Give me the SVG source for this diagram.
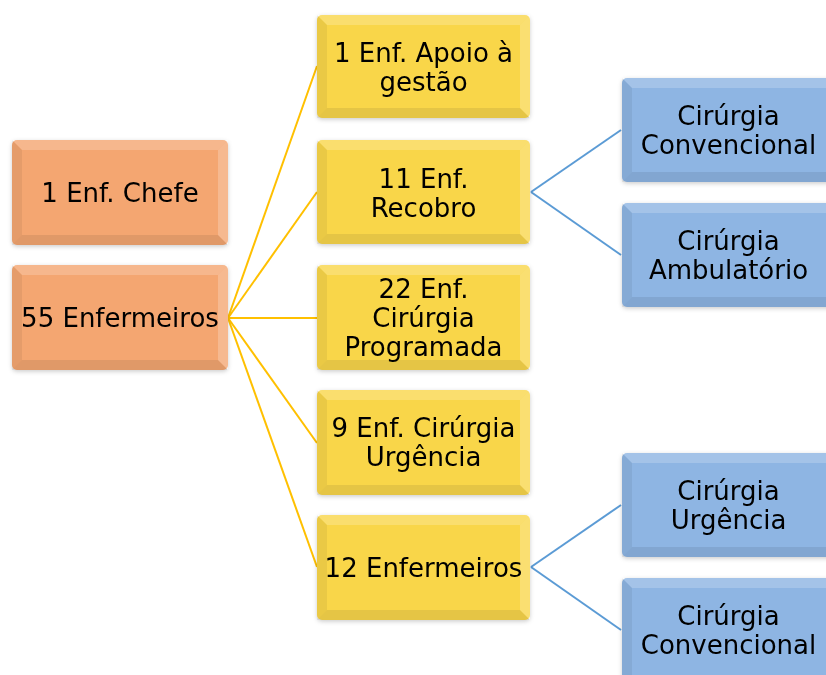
<svg xmlns="http://www.w3.org/2000/svg" width="826" height="675" viewBox="0 0 826 675">
<defs>
<filter id="sh" x="-10%" y="-10%" width="120%" height="130%">
<feDropShadow dx="0" dy="1.5" stdDeviation="2" flood-color="#000" flood-opacity="0.2"/>
</filter>
</defs>
<style>
.orange .base{fill:#F4A671}
.yellow .base{fill:#F9D64A}
.blue .base{fill:#8EB5E3}
.bt{fill:#fff;opacity:0.2}
.br{fill:#fff;opacity:0.22}
.bl{fill:#000;opacity:0.06}
.bb{fill:#000;opacity:0.08}
text{font-family:"DejaVu Sans","Verdana",sans-serif;font-size:26px;fill:#000;text-anchor:middle}
.cy{stroke:#FFC000;stroke-width:2;fill:none}
.cb{stroke:#5B9BD5;stroke-width:2;fill:none}
</style>
<g id="connectors">
<line class="cy" x1="228" y1="318" x2="317" y2="66"/>
<line class="cy" x1="228" y1="318" x2="317" y2="192"/>
<line class="cy" x1="228" y1="318" x2="317" y2="318"/>
<line class="cy" x1="228" y1="318" x2="317" y2="443"/>
<line class="cy" x1="228" y1="318" x2="317" y2="567"/>
<line class="cb" x1="531" y1="192" x2="621" y2="130"/>
<line class="cb" x1="531" y1="192" x2="621" y2="255"/>
<line class="cb" x1="531" y1="567" x2="621" y2="505"/>
<line class="cb" x1="531" y1="567" x2="621" y2="630"/>
</g>
<g id="n-chefe" class="orange" filter="url(#sh)">
<rect class="base" x="12" y="140" width="216" height="105" rx="5"/>
<polygon class="bt" points="12,140 228,140 218,150 22,150"/>
<polygon class="bl" points="12,140 22,150 22,235 12,245"/>
<polygon class="bb" points="12,245 22,235 218,235 228,245"/>
<polygon class="br" points="228,140 228,245 218,235 218,150"/>
<text x="120" y="202">1 Enf. Chefe</text>
</g>
<g id="n-55" class="orange" filter="url(#sh)">
<rect class="base" x="12" y="265" width="216" height="105" rx="5"/>
<polygon class="bt" points="12,265 228,265 218,275 22,275"/>
<polygon class="bl" points="12,265 22,275 22,360 12,370"/>
<polygon class="bb" points="12,370 22,360 218,360 228,370"/>
<polygon class="br" points="228,265 228,370 218,360 218,275"/>
<text x="120" y="327">55 Enfermeiros</text>
</g>
<g id="n-apoio" class="yellow" filter="url(#sh)">
<rect class="base" x="317" y="15" width="213" height="103" rx="5"/>
<polygon class="bt" points="317,15 530,15 520,25 327,25"/>
<polygon class="bl" points="317,15 327,25 327,108 317,118"/>
<polygon class="bb" points="317,118 327,108 520,108 530,118"/>
<polygon class="br" points="530,15 530,118 520,108 520,25"/>
<text x="423.5" y="62">1 Enf. Apoio à</text>
<text x="423.5" y="91">gestão</text>
</g>
<g id="n-recobro" class="yellow" filter="url(#sh)">
<rect class="base" x="317" y="140" width="213" height="104" rx="5"/>
<polygon class="bt" points="317,140 530,140 520,150 327,150"/>
<polygon class="bl" points="317,140 327,150 327,234 317,244"/>
<polygon class="bb" points="317,244 327,234 520,234 530,244"/>
<polygon class="br" points="530,140 530,244 520,234 520,150"/>
<text x="423.5" y="188">11 Enf.</text>
<text x="423.5" y="217">Recobro</text>
</g>
<g id="n-programada" class="yellow" filter="url(#sh)">
<rect class="base" x="317" y="265" width="213" height="105" rx="5"/>
<polygon class="bt" points="317,265 530,265 520,275 327,275"/>
<polygon class="bl" points="317,265 327,275 327,360 317,370"/>
<polygon class="bb" points="317,370 327,360 520,360 530,370"/>
<polygon class="br" points="530,265 530,370 520,360 520,275"/>
<text x="423.5" y="298">22 Enf.</text>
<text x="423.5" y="327">Cirúrgia</text>
<text x="423.5" y="356">Programada</text>
</g>
<g id="n-urgencia" class="yellow" filter="url(#sh)">
<rect class="base" x="317" y="390" width="213" height="105" rx="5"/>
<polygon class="bt" points="317,390 530,390 520,400 327,400"/>
<polygon class="bl" points="317,390 327,400 327,485 317,495"/>
<polygon class="bb" points="317,495 327,485 520,485 530,495"/>
<polygon class="br" points="530,390 530,495 520,485 520,400"/>
<text x="423.5" y="437">9 Enf. Cirúrgia</text>
<text x="423.5" y="466">Urgência</text>
</g>
<g id="n-12" class="yellow" filter="url(#sh)">
<rect class="base" x="317" y="515" width="213" height="105" rx="5"/>
<polygon class="bt" points="317,515 530,515 520,525 327,525"/>
<polygon class="bl" points="317,515 327,525 327,610 317,620"/>
<polygon class="bb" points="317,620 327,610 520,610 530,620"/>
<polygon class="br" points="530,515 530,620 520,610 520,525"/>
<text x="423.5" y="577">12 Enfermeiros</text>
</g>
<g id="n-conv1" class="blue" filter="url(#sh)">
<rect class="base" x="622" y="78" width="214" height="104" rx="5"/>
<polygon class="bt" points="622,78 836,78 826,88 632,88"/>
<polygon class="bl" points="622,78 632,88 632,172 622,182"/>
<polygon class="bb" points="622,182 632,172 826,172 836,182"/>
<text x="728.5" y="125">Cirúrgia</text>
<text x="728.5" y="154">Convencional</text>
</g>
<g id="n-amb" class="blue" filter="url(#sh)">
<rect class="base" x="622" y="203" width="214" height="104" rx="5"/>
<polygon class="bt" points="622,203 836,203 826,213 632,213"/>
<polygon class="bl" points="622,203 632,213 632,297 622,307"/>
<polygon class="bb" points="622,307 632,297 826,297 836,307"/>
<text x="728.5" y="250">Cirúrgia</text>
<text x="728.5" y="279">Ambulatório</text>
</g>
<g id="n-urg2" class="blue" filter="url(#sh)">
<rect class="base" x="622" y="453" width="214" height="104" rx="5"/>
<polygon class="bt" points="622,453 836,453 826,463 632,463"/>
<polygon class="bl" points="622,453 632,463 632,547 622,557"/>
<polygon class="bb" points="622,557 632,547 826,547 836,557"/>
<text x="728.5" y="500">Cirúrgia</text>
<text x="728.5" y="529">Urgência</text>
</g>
<g id="n-conv2" class="blue" filter="url(#sh)">
<rect class="base" x="622" y="578" width="214" height="110" rx="5"/>
<polygon class="bt" points="622,578 836,578 826,588 632,588"/>
<polygon class="bl" points="622,578 632,588 632,678 622,688"/>
<text x="728.5" y="625">Cirúrgia</text>
<text x="728.5" y="654">Convencional</text>
</g>
</svg>
